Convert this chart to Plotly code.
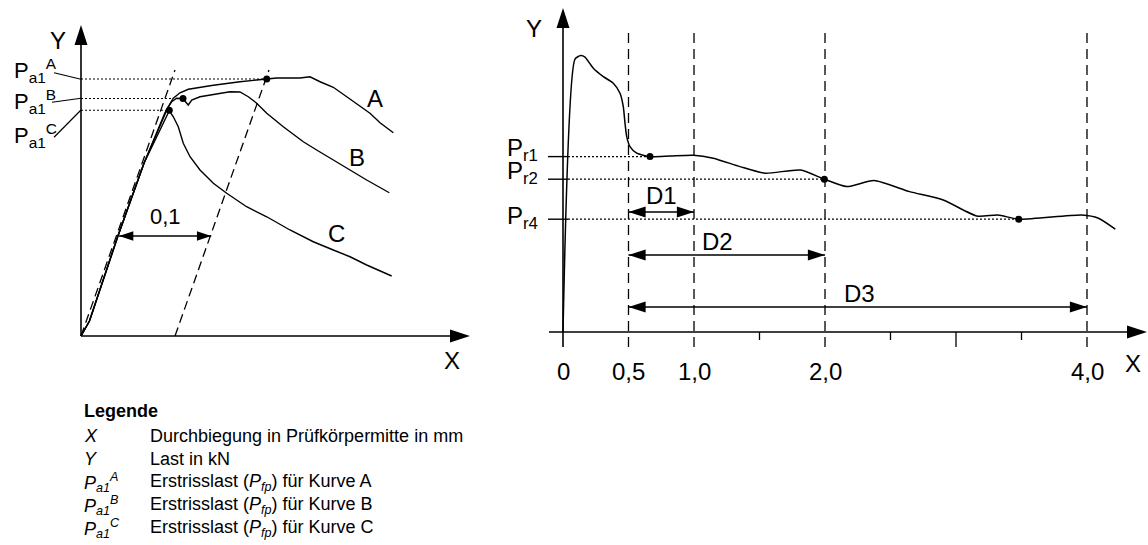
import plotly.graph_objects as go

# ---------------- left panel: load / deflection curves A, B, C ----------------
# x = deflection (mm), y = load (arbitrary units)
curve_a_x = [0.0, 0.009, 0.039, 0.067, 0.0928, 0.0982, 0.1053, 0.1142, 0.1408, 0.1691,
             0.1976, 0.2082, 0.2330, 0.2436, 0.2543, 0.2684, 0.2827, 0.2969, 0.3074, 0.3181, 0.3323]
curve_a_y = [0.0, 0.60, 3.97, 6.91, 9.17, 9.51, 9.73, 9.87, 10.03, 10.17,
             10.28, 10.32, 10.32, 10.37, 10.17, 9.95, 9.57, 9.17, 8.91, 8.53, 8.13]

curve_b_x = [0.0, 0.009, 0.039, 0.067, 0.0895, 0.0965, 0.1018, 0.1085, 0.1141, 0.1178,
             0.1266, 0.1444, 0.1585, 0.1691, 0.1780, 0.1869, 0.1976, 0.2152, 0.2365, 0.2507,
             0.2684, 0.2862, 0.3039, 0.3280]
curve_b_y = [0.0, 0.60, 3.97, 6.91, 8.95, 9.37, 9.51, 9.49, 9.24, 9.44,
             9.57, 9.68, 9.77, 9.76, 9.57, 9.31, 8.91, 8.37, 7.77, 7.44,
             7.04, 6.64, 6.24, 5.73]

curve_c_x = [0.0, 0.009, 0.039, 0.067, 0.0939, 0.0982, 0.1035, 0.1088, 0.1160, 0.1266,
             0.1408, 0.1550, 0.1762, 0.1976, 0.2223, 0.2471, 0.2684, 0.2862, 0.3039, 0.3305]
curve_c_y = [0.0, 0.60, 3.97, 6.91, 9.01, 8.77, 8.37, 7.71, 7.17, 6.64,
             6.11, 5.71, 5.17, 4.77, 4.24, 3.77, 3.44, 3.17, 2.84, 2.40]

# first-crack points Pa1 (A, B, C)
pa1_names = ["A", "B", "C"]
pa1_x = [0.1976, 0.1085, 0.0939]
pa1_y = [10.28, 9.50, 9.03]
pa1_dotted_end = [0.1976, 0.097, 0.092]
offset = 0.1          # parallel offset of the secant line
secant_top = 10.64

# ---------------- right panel: residual load curve ----------------
res_x = [0.0, 0.0916, 0.1351, 0.1679, 0.2313, 0.3076, 0.3840, 0.4351, 0.4603, 0.4733,
         0.4863, 0.5115, 0.5626, 0.6641, 0.8168, 0.9947, 1.1473, 1.3511, 1.5412, 1.8130,
         1.9954, 2.1656, 2.3740, 2.6458, 2.9023, 3.1588, 3.3191, 3.4786, 3.9595, 4.0878, 4.2160]
res_y = [0.0, 13.64, 13.82, 13.74, 13.19, 12.77, 12.44, 11.94, 11.27, 10.44,
         9.77, 9.27, 8.94, 8.77, 8.80, 8.84, 8.69, 8.27, 7.94, 8.10,
         7.64, 7.27, 7.57, 7.02, 6.60, 5.80, 5.85, 5.64, 5.85, 5.69, 5.14]

pr_names = ["r1", "r2", "r4"]
pr_x = [0.664, 1.995, 3.479]
pr_y = [8.77, 7.64, 5.64]

d_marks = [0.5, 1.0, 2.0, 4.0]
minor_ticks = [1.5, 2.5, 3.0, 3.5]
tick_vals = [0, 0.5, 1.0, 2.0, 4.0]
tick_text = ["0", "0,5", "1,0", "2,0", "4,0"]
d_labels = ["D1", "D2", "D3"]
d_ends = [1.0, 2.0, 4.0]
d_levels = [6.0, 3.85, 1.25]

legend_sym = ["<i>X</i>", "<i>Y</i>",
              "<i>P<sub>a1</sub><sup>A</sup></i>",
              "<i>P<sub>a1</sub><sup>B</sup></i>",
              "<i>P<sub>a1</sub><sup>C</sup></i>"]
legend_txt = ["Durchbiegung in Prüfkörpermitte in mm",
              "Last in kN",
              "Erstrisslast (<i>P<sub>fp</sub></i>) für Kurve A",
              "Erstrisslast (<i>P<sub>fp</sub></i>) für Kurve B",
              "Erstrisslast (<i>P<sub>fp</sub></i>) für Kurve C"]

FONT = "Arial, Liberation Sans, sans-serif"
W, H = 1148, 545
L = ("x", "y")
R = ("x2", "y2")

fig = go.Figure()


def line(x, y, axes, width=1.4, dash="solid"):
    fig.add_trace(go.Scatter(x=x, y=y, xaxis=axes[0], yaxis=axes[1], mode="lines",
                             line=dict(color="black", width=width, dash=dash),
                             hoverinfo="skip", showlegend=False))


def tip(x, y, angle, axes, size):
    fig.add_trace(go.Scatter(x=[x], y=[y], xaxis=axes[0], yaxis=axes[1], mode="markers",
                             marker=dict(symbol="arrow", angle=angle, size=size, color="black",
                                         line=dict(width=0)),
                             cliponaxis=False, hoverinfo="skip", showlegend=False))


def dots(x, y, axes, size=7):
    fig.add_trace(go.Scatter(x=x, y=y, xaxis=axes[0], yaxis=axes[1], mode="markers",
                             marker=dict(size=size, color="black"), cliponaxis=False,
                             hoverinfo="skip", showlegend=False))


def text(x, y, s, axes, size=23, xanchor="center", yanchor="middle"):
    fig.add_annotation(x=x, y=y, xref=axes[0], yref=axes[1], text=s, showarrow=False,
                       xanchor=xanchor, yanchor=yanchor,
                       font=dict(family=FONT, size=size, color="black"))


# ---- left panel ----
line([0, 0], [0, 12.2], L, 1.6)
tip(0, 12.44, 0, L, 21)
line([0, 0.40], [0, 0], L, 1.6)
tip(0.4138, 0, 90, L, 21)
text(-0.0245, 11.84, "Y", L, 24)
text(0.3947, -0.96, "X", L, 24)

line([0, offset], [0, secant_top], L, 1.3, "9px,5px")
line([offset, 2 * offset], [0, secant_top], L, 1.3, "9px,5px")

for cx, cy in [(curve_a_x, curve_a_y), (curve_b_x, curve_b_y), (curve_c_x, curve_c_y)]:
    line(cx, cy, L, 1.4)

for xe, ye in zip(pa1_dotted_end, pa1_y):
    line([0, xe], [ye, ye], L, 1.2, "2px,2px")
dots(pa1_x, pa1_y, L)

# leader lines from labels to the Y axis
line([-0.0287, 0], [10.53, 10.27], L, 1.2)
line([-0.0309, 0], [9.35, 9.51], L, 1.2)
line([-0.0287, 0], [7.95, 9.04], L, 1.2)
for nm, ly in zip(pa1_names, [10.62, 9.37, 8.04]):
    text(-0.0734, ly, "P<sub>a1</sub><sup>%s</sup>" % nm, L, 22, xanchor="left")

text(0.3128, 9.52, "A", L, 24)
text(0.2936, 7.16, "B", L, 24)
text(0.2723, 4.12, "C", L, 24)

line([0.0405, 0.1385], [4.0, 4.0], L, 1.4)
tip(0.0405, 4.0, 270, L, 15)
tip(0.1385, 4.0, 90, L, 15)
text(0.0894, 4.77, "0,1", L, 22)

# ---- right panel ----
line([0, 0], [-0.75, 16.0], R, 1.6)
tip(0, 16.2, 0, R, 21)
line([-0.107, 4.40], [0, 0], R, 1.6)
tip(4.458, 0, 90, R, 21)
text(-0.221, 15.2, "Y", R, 24)
text(4.351, -1.55, "X", R, 24)

for xm in d_marks:
    line([xm, xm], [-0.75, 14.95], R, 1.3, "10px,6px")
for xm in minor_ticks:
    line([xm, xm], [0, -0.75 if xm == 3.0 else -0.4], R, 1.3)
for tv, tt in zip(tick_vals, tick_text):
    text(tv, -1.98, tt, R, 24)

line(res_x, res_y, R, 1.5)
fig.data[-1].line.shape = "spline"
fig.data[-1].line.smoothing = 0.6

for nm, px_, py_, ly in zip(pr_names, pr_x, pr_y, [9.15, 8.0, 5.725]):
    line([-0.115, 0.038], [py_, py_], R, 1.4)
    line([0.038, px_], [py_, py_], R, 1.2, "2px,2px")
    text(-0.443, ly, "P<sub>%s</sub>" % nm, R, 24, xanchor="left")
dots(pr_x, pr_y, R)

for lab, xe, lv, lx, ly in zip(d_labels, d_ends, d_levels, [0.753, 1.183, 2.262], [6.85, 4.515, 1.935]):
    line([0.5, xe], [lv, lv], R, 1.6)
    tip(0.5, lv, 270, R, 18)
    tip(xe, lv, 90, R, 18)
    text(lx, ly, lab, R, 24)

# ---- legend block ----
fig.add_annotation(x=82 / W, y=1 - 411 / H, xref="paper", yref="paper", text="<b>Legende</b>",
                   showarrow=False, xanchor="left", yanchor="middle",
                   font=dict(family=FONT, size=18, color="black"))
for i, (s, t) in enumerate(zip(legend_sym, legend_txt)):
    yy = 1 - [436, 459, 482, 505, 528][i] / H
    fig.add_annotation(x=82 / W, y=yy, xref="paper", yref="paper", text=s, showarrow=False,
                       xanchor="left", yanchor="middle", font=dict(family=FONT, size=18, color="black"))
    fig.add_annotation(x=148 / W, y=yy, xref="paper", yref="paper", text=t, showarrow=False,
                       xanchor="left", yanchor="middle", font=dict(family=FONT, size=18, color="black"))

split = 494 / W
fig.update_layout(
    width=W, height=H,
    margin=dict(l=0, r=0, t=0, b=0),
    paper_bgcolor="white", plot_bgcolor="white",
    showlegend=False,
    xaxis=dict(domain=[0, split], range=[-81 / 940, 413 / 940], visible=False, fixedrange=True),
    yaxis=dict(domain=[0, 1], range=[-209 / 25, 336 / 25], visible=False, fixedrange=True),
    xaxis2=dict(domain=[split, 1], range=[-69 / 131, 585 / 131], visible=False, anchor="y2",
                fixedrange=True),
    yaxis2=dict(domain=[0, 1], range=[-213 / 20, 332 / 20], visible=False, anchor="x2",
                fixedrange=True),
)

# page body has a default 8px margin; drop it so the figure sits at the window corner
fig.write_html("out.html", config={"displayModeBar": False},
               post_script="document.body.style.margin='0';document.body.style.overflow='hidden';")
